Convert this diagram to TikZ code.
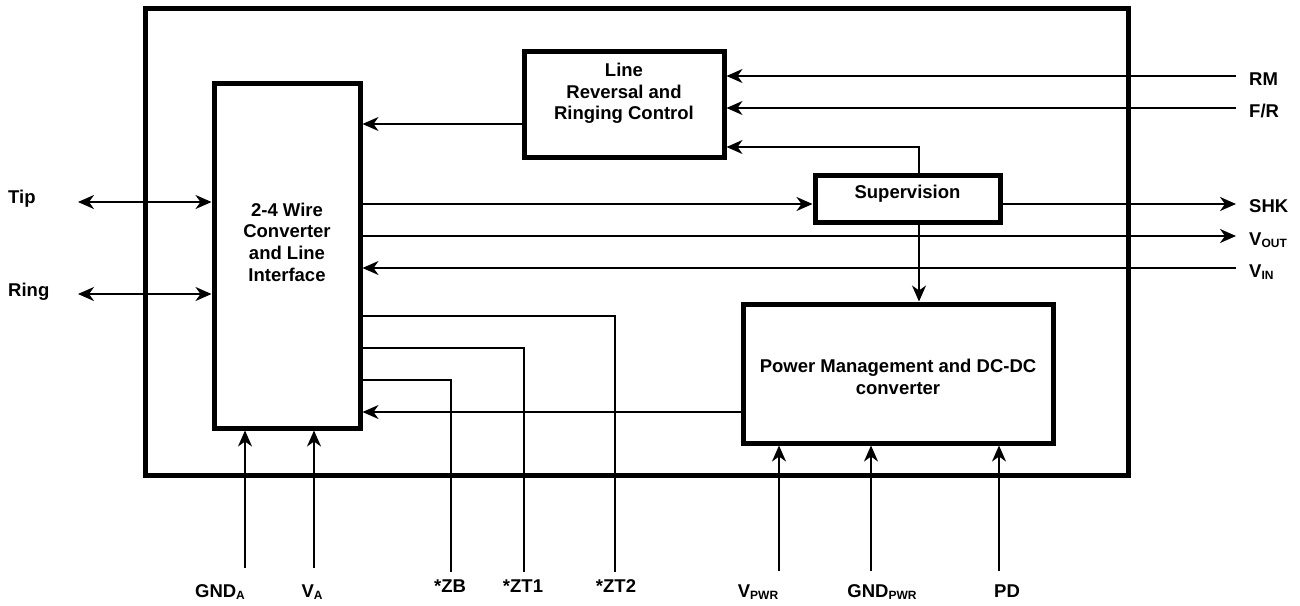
\documentclass[tikz,border=0pt]{standalone}
\usepackage{fontspec}
\setmainfont{Liberation Sans}
\usetikzlibrary{arrows.meta}
\newcommand{\lowsub}[1]{\raisebox{-2pt}{\fontsize{12}{12}\selectfont #1}}
\begin{document}
\begin{tikzpicture}[x=1pt,y=-1pt,font=\fontsize{18.5}{21.7}\selectfont\bfseries,
      >={Stealth[length=16pt,width=14pt,inset=5pt]}]
      \tikzstyle{every node}+=[inner sep=0pt]
      \tikzstyle{blk}=[draw=black, line width=5pt, rectangle]
      \tikzstyle{sig}=[black, line width=2pt]
      \tikzstyle{txt}=[align=center]
      \useasboundingbox (0,0) rectangle (1300,605);
      \node [blk, minimum width=983pt, minimum height=467pt] (chip) at (636.5,241.5) {};
      \node [blk, minimum width=146pt, minimum height=345pt] (wire) at (287,255.5) {};
      \node [txt] (wiretxt) at (287,242) {2-4 Wire\\Converter\\and Line\\Interface};
      \node [blk, minimum width=200pt, minimum height=106pt] (lrc) at (624,104) {};
      \node [txt] (lrctxt) at (624,93.5) {Line\\Reversal and\\Ringing Control};
      \node [blk, minimum width=185pt, minimum height=47pt] (superv) at (907.5,198.5) {};
      \node [txt] (supervtxt) at (907.5,194) {Supervision};
      \node [blk, minimum width=310pt, minimum height=139pt] (pwr) at (898,373.5) {};
      \node [txt] (pwrtxt) at (898,377) {Power Management and DC-DC\\converter};
      \coordinate (ptip) at (78,202);
      \coordinate (pring) at (78,294);
      \coordinate (prm) at (1236,76);
      \coordinate (pfr) at (1236,108);
      \coordinate (pshk) at (1236,204);
      \coordinate (pvout) at (1236,236);
      \coordinate (pvin) at (1236,268);
      \coordinate (pgnda) at (245,568);
      \coordinate (pva) at (314,568);
      \coordinate (pzb) at (451,572);
      \coordinate (pzt1) at (524,572);
      \coordinate (pzt2) at (615,572);
      \coordinate (pvpwr) at (779,571);
      \coordinate (pgndpwr) at (871,571);
      \coordinate (ppd) at (999,571);
      \coordinate (tap) at (919,147);
      \draw [sig,<->] (ptip) -- (ptip -| wire.west);
      \draw [sig,<->] (pring) -- (pring -| wire.west);
      \draw [sig,->] (prm) -- (prm -| lrc.east);
      \draw [sig,->] (pfr) -- (pfr -| lrc.east);
      \draw [sig,->] (tap |- superv.north) -- (tap) -- (tap -| lrc.east);
      \draw [sig,->] (lrc.west |- 0,124) -- (wire.east |- 0,124);
      \draw [sig,->] (pshk -| wire.east) -- (pshk -| superv.west);
      \draw [sig,->] (pshk -| superv.east) -- (pshk);
      \draw [sig,->] (pvout -| wire.east) -- (pvout);
      \draw [sig,->] (pvin) -- (pvin -| wire.east);
      \draw [sig,->] (tap |- superv.south) -- (tap |- pwr.north);
      \draw [sig,->] (pwr.west |- 0,412) -- (wire.east |- 0,412);
      \draw [sig] (pzt2) |- (wire.east |- 0,316);
      \draw [sig] (pzt1) |- (wire.east |- 0,348);
      \draw [sig] (pzb) |- (wire.east |- 0,380);
      \draw [sig,->] (pgnda) -- (pgnda |- wire.south);
      \draw [sig,->] (pva) -- (pva |- wire.south);
      \draw [sig,->] (pvpwr) -- (pvpwr |- pwr.south);
      \draw [sig,->] (pgndpwr) -- (pgndpwr |- pwr.south);
      \draw [sig,->] (ppd) -- (ppd |- pwr.south);
      \node [anchor=base west] (ltip) at (8,203) {Tip};
      \node [anchor=base west] (lring) at (8,296) {Ring};
      \node [anchor=base west] (lrm) at (1249,85) {RM};
      \node [anchor=base west] (lfr) at (1249,117) {F/R};
      \node [anchor=base west] (lshk) at (1249,212) {SHK};
      \node [anchor=base west] (lvout) at (1249,245) {V\lowsub{OUT}};
      \node [anchor=base west] (lvin) at (1249,277) {V\lowsub{IN}};
      \node [anchor=base] (lgnda) at (220,597) {GND\lowsub{A}};
      \node [anchor=base] (lva) at (312,597) {V\lowsub{A}};
      \node [anchor=base] (lzb) at (450,592) {*ZB};
      \node [anchor=base] (lzt1) at (523,592) {*ZT1};
      \node [anchor=base] (lzt2) at (616,592) {*ZT2};
      \node [anchor=base] (lvpwr) at (758,597) {V\lowsub{PWR}};
      \node [anchor=base] (lgndpwr) at (882,597) {GND\lowsub{PWR}};
      \node [anchor=base] (lpd) at (1007,597) {PD};
\end{tikzpicture}
\end{document}
